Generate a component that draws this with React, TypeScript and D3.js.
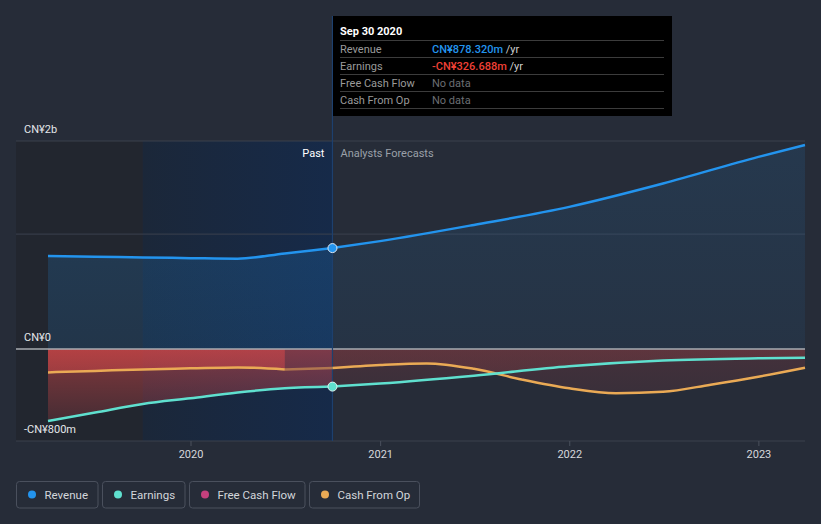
import React from "react";
import * as d3 from "d3";

// ---- data (values in CN¥ millions) ----
const revenuePastDates = ["2019-03-31", "2019-06-30", "2019-09-30", "2019-12-31", "2020-03-31", "2020-06-30", "2020-09-30"];
const revenuePastValues = [809, 803, 797, 791, 786, 832, 878.32];
const revenueFcDates = ["2020-09-30", "2020-12-31", "2021-06-30", "2021-12-31", "2022-06-30", "2022-12-31", "2023-03-31"];
const revenueFcValues = [878.32, 939, 1080, 1237, 1440, 1672, 1775];

const earningsPastDates = ["2019-03-31", "2019-06-30", "2019-09-30", "2019-12-31", "2020-03-31", "2020-06-30", "2020-09-30"];
const earningsPastValues = [-626, -552, -478, -428, -378, -342, -326.688];
const earningsFcDates = ["2020-09-30", "2020-12-31", "2021-06-30", "2021-12-31", "2022-06-30", "2022-12-31", "2023-03-31"];
const earningsFcValues = [-326.688, -300, -232, -150, -100, -80, -75];

const cfoPastDates = ["2019-03-31", "2019-06-30", "2019-09-30", "2019-12-31", "2020-03-31", "2020-06-30"];
const cfoPastValues = [-203, -190, -177, -168, -160, -177];
const cfoGapDates = ["2020-06-30", "2020-09-30"];
const cfoGapValues = [-177, -165];
const cfoFcDates = ["2020-09-30", "2020-12-31", "2021-03-31", "2021-06-30", "2021-09-30", "2021-12-31", "2022-03-31", "2022-06-30", "2022-09-30", "2022-12-31", "2023-03-31"];
const cfoFcValues = [-165, -139, -125, -172, -265, -342, -385, -372, -310, -241, -163];

const xTickLabels = ["2020", "2021", "2022", "2023"];
const yTickValues = [1810, 1000, 0, -800];
const yTickLabels = ["CN¥2b", "", "CN¥0", "-CN¥800m"];

const domainStart = "2019-03-31";
const domainEnd = "2023-03-31";
const pastBandStart = "2019-09-30";
const nowDate = "2020-09-30";

const tooltipTitle = "Sep 30 2020";
const tooltipRows = [
  { label: "Revenue", value: "CN¥878.320m", unit: " /yr", color: "#2394ee" },
  { label: "Earnings", value: "-CN¥326.688m", unit: " /yr", color: "#ef4136" },
  { label: "Free Cash Flow", value: "No data", unit: "", color: "#6b6e73" },
  { label: "Cash From Op", value: "No data", unit: "", color: "#6b6e73" },
];

const legendItems = [
  { label: "Revenue", color: "#2394ee" },
  { label: "Earnings", color: "#5fe0cf" },
  { label: "Free Cash Flow", color: "#c4407d" },
  { label: "Cash From Op", color: "#eaaa55" },
];

const COLORS = {
  bg: "#262c38",
  revenue: "#2394ee",
  earnings: "#5fe0cf",
  cfo: "#eaaa55",
  red: "#e44a4a",
};

const W = 821;
const H = 524;
const PLOT_LEFT = 16;
const PLOT_RIGHT = 805;
const PLOT_TOP = 141;
const PLOT_BOTTOM = 441;

type Pt = { d: Date; v: number };
const toPts = (dates: string[], values: number[]): Pt[] =>
  dates.map((s, i) => ({ d: new Date(s + "T00:00:00"), v: values[i] }));

export default function App() {
  const x = d3
    .scaleTime()
    .domain([new Date(domainStart + "T00:00:00"), new Date(domainEnd + "T00:00:00")])
    .range([48, 805]);
  const y = d3.scaleLinear().domain([-800, 1810]).range([PLOT_BOTTOM, PLOT_TOP]);

  const line = d3
    .line<Pt>()
    .x((p) => x(p.d))
    .y((p) => y(p.v))
    .curve(d3.curveMonotoneX);
  const area = d3
    .area<Pt>()
    .x((p) => x(p.d))
    .y0(() => y(0))
    .y1((p) => y(p.v))
    .curve(d3.curveMonotoneX);

  const revPast = toPts(revenuePastDates, revenuePastValues);
  const revFc = toPts(revenueFcDates, revenueFcValues);
  const earnPast = toPts(earningsPastDates, earningsPastValues);
  const earnFc = toPts(earningsFcDates, earningsFcValues);
  const cfoPast = toPts(cfoPastDates, cfoPastValues);
  const cfoGap = toPts(cfoGapDates, cfoGapValues);
  const cfoFc = toPts(cfoFcDates, cfoFcValues);

  const nowX = x(new Date(nowDate + "T00:00:00"));
  const bandX = x(new Date(pastBandStart + "T00:00:00"));
  const zeroY = y(0);

  const xTicks = xTickLabels.map((l) => ({ l, px: x(new Date(l + "-01-01T00:00:00")) }));

  const font = "Roboto, 'Noto Sans', sans-serif";

  // legend layout
  const legendWidths = [81.5, 82.5, 115.5, 110];
  let lx = 16;
  const legend = legendItems.map((it, i) => {
    const item = { ...it, x: lx, w: legendWidths[i] };
    lx += legendWidths[i] + 4.5;
    return item;
  });

  return (
    <svg
      width={W}
      height={H}
      style={{ position: "fixed", left: 0, top: 0, display: "block" }}
      fontFamily={font}
    >
      <defs>
        <linearGradient id="pastBand" x1="0" x2="1" y1="0" y2="0">
          <stop offset="0" stopColor="#1b2739" />
          <stop offset="1" stopColor="#162a49" />
        </linearGradient>
        <linearGradient id="revPastG" gradientUnits="userSpaceOnUse" x1="0" x2="0" y1={PLOT_TOP} y2={zeroY}>
          <stop offset="0" stopColor={COLORS.revenue} stopOpacity="0.22" />
          <stop offset="1" stopColor={COLORS.revenue} stopOpacity="0.14" />
        </linearGradient>
        <linearGradient id="revFcG" gradientUnits="userSpaceOnUse" x1="0" x2="0" y1={PLOT_TOP} y2={zeroY}>
          <stop offset="0" stopColor={COLORS.revenue} stopOpacity="0.12" />
          <stop offset="1" stopColor={COLORS.revenue} stopOpacity="0.07" />
        </linearGradient>
        <linearGradient id="redPastG" gradientUnits="userSpaceOnUse" x1="0" x2="0" y1={zeroY} y2={PLOT_BOTTOM}>
          <stop offset="0" stopColor={COLORS.red} stopOpacity="0.5" />
          <stop offset="1" stopColor={COLORS.red} stopOpacity="0.1" />
        </linearGradient>
        <linearGradient id="redFcG" gradientUnits="userSpaceOnUse" x1="0" x2="0" y1={zeroY} y2={PLOT_BOTTOM}>
          <stop offset="0" stopColor={COLORS.red} stopOpacity="0.16" />
          <stop offset="1" stopColor={COLORS.red} stopOpacity="0.04" />
        </linearGradient>
      </defs>

      <rect x={0} y={0} width={W} height={H} fill={COLORS.bg} />

      {/* left dark band and past highlight */}
      <rect x={PLOT_LEFT} y={PLOT_TOP} width={bandX - PLOT_LEFT} height={PLOT_BOTTOM - PLOT_TOP} fill="#22262f" />
      <rect x={bandX} y={PLOT_TOP} width={nowX - bandX} height={PLOT_BOTTOM - PLOT_TOP} fill="url(#pastBand)" />

      {/* gridlines */}
      {yTickValues.map((v, i) =>
        v === 0 ? null : (
          <line key={"g" + i} x1={PLOT_LEFT} x2={PLOT_RIGHT} y1={y(v)} y2={y(v)} stroke="#3b414d" strokeWidth={1} />
        )
      )}

      {/* areas */}
      <path d={area(revPast) || ""} fill="url(#revPastG)" />
      <path d={area(revFc) || ""} fill="url(#revFcG)" />
      <path d={area(earnPast) || ""} fill="url(#redPastG)" />
      <path d={area(cfoPast) || ""} fill="url(#redPastG)" />
      <path d={area(earnFc) || ""} fill="url(#redFcG)" />
      <path d={area(cfoFc) || ""} fill="url(#redFcG)" />

      {/* zero line */}
      <line x1={PLOT_LEFT} x2={PLOT_RIGHT} y1={zeroY} y2={zeroY} stroke="#a9acb2" strokeWidth={1.5} />

      {/* x ticks */}
      {xTicks.map((t) => (
        <g key={t.l}>
          <line x1={t.px} x2={t.px} y1={PLOT_BOTTOM} y2={PLOT_BOTTOM + 5} stroke="#4a505c" />
          <text x={t.px} y={458} textAnchor="middle" fontSize={11} fill="#d6d8dc">
            {t.l}
          </text>
        </g>
      ))}

      {/* now line */}
      <line x1={nowX} x2={nowX} y1={16} y2={PLOT_BOTTOM} stroke="#1d406e" strokeWidth={1.2} />

      {/* lines */}
      <path d={line(cfoPast) || ""} fill="none" stroke={COLORS.cfo} strokeWidth={2.5} />
      <path d={line(cfoGap) || ""} fill="none" stroke={COLORS.cfo} strokeOpacity={0.55} strokeWidth={2.5} />
      <path d={line(cfoFc) || ""} fill="none" stroke={COLORS.cfo} strokeWidth={2.5} />
      <path d={line(earnPast) || ""} fill="none" stroke={COLORS.earnings} strokeWidth={2.5} />
      <path d={line(earnFc) || ""} fill="none" stroke={COLORS.earnings} strokeWidth={2.5} />
      <path d={line(revPast) || ""} fill="none" stroke={COLORS.revenue} strokeWidth={2.5} />
      <path d={line(revFc) || ""} fill="none" stroke={COLORS.revenue} strokeWidth={2.5} />

      {/* dots */}
      <circle cx={nowX} cy={y(revenuePastValues[revenuePastValues.length - 1])} r={4.5} fill={COLORS.revenue} stroke="#dfe8f2" strokeWidth={1} />
      <circle cx={nowX} cy={y(earningsPastValues[earningsPastValues.length - 1])} r={4.5} fill={COLORS.earnings} stroke="#dff4f1" strokeWidth={1} />

      {/* y labels */}
      {yTickValues.map((v, i) =>
        yTickLabels[i] ? (
          <text key={"yl" + i} x={24} y={y(v) - 8} fontSize={11} fill="#e4e6ea">
            {yTickLabels[i]}
          </text>
        ) : null
      )}

      {/* Past / Forecast labels */}
      <text x={nowX - 8} y={157} textAnchor="end" fontSize={11} fill="#ffffff">
        Past
      </text>
      <text x={nowX + 8} y={157} fontSize={11} fill="#9aa0a8">
        Analysts Forecasts
      </text>

      {/* tooltip */}
      <g>
        <rect x={333} y={16} width={339} height={100} fill="#000000" />
        <text x={340} y={35} fontSize={11} fontWeight="bold" fill="#ffffff">
          {tooltipTitle}
        </text>
        {[0, 1, 2, 3, 4].map((i) => (
          <line key={"sep" + i} x1={340} x2={664} y1={40.5 + i * 17} y2={40.5 + i * 17} stroke="#3c3c3c" strokeWidth={1} />
        ))}
        {tooltipRows.map((r, i) => (
          <g key={r.label}>
            <text x={340} y={53 + i * 17} fontSize={11} fill="#9a9a9a">
              {r.label}
            </text>
            <text x={432} y={53 + i * 17} fontSize={11}>
              <tspan fill={r.color} fontWeight={r.unit ? 500 : 400}>{r.value}</tspan>
              {r.unit ? <tspan fill="#cfcfcf">{r.unit}</tspan> : null}
            </text>
          </g>
        ))}
      </g>

      {/* legend */}
      {legend.map((it) => (
        <g key={it.label}>
          <rect x={it.x + 0.5} y={481.5} width={it.w} height={26.5} rx={3} fill="none" stroke="#4a505d" strokeWidth={1} />
          <circle cx={it.x + 16} cy={494.5} r={4} fill={it.color} />
          <text x={it.x + 28.5} y={498.5} fontSize={11.5} fill="#d3d6db">
            {it.label}
          </text>
        </g>
      ))}
    </svg>
  );
}
